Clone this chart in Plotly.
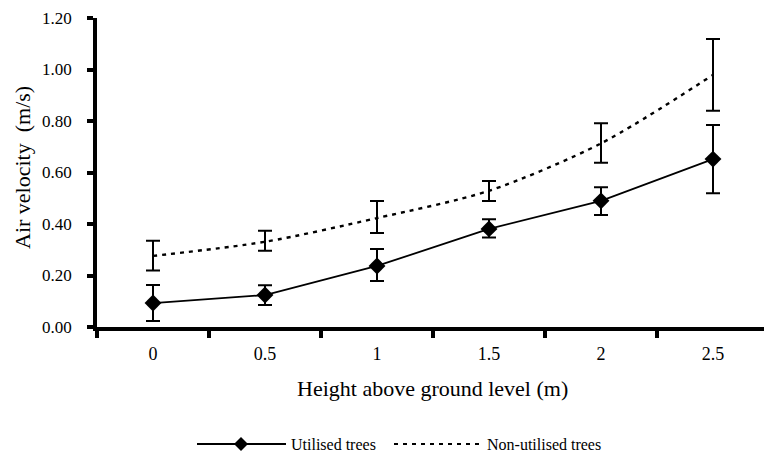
import plotly.graph_objects as go

heights = ["0", "0.5", "1", "1.5", "2", "2.5"]
util_vals = [0.093, 0.124, 0.237, 0.381, 0.490, 0.652]
util_plus = [0.070, 0.038, 0.066, 0.037, 0.053, 0.132]
util_minus = [0.070, 0.039, 0.058, 0.033, 0.055, 0.133]
non_vals = [0.276, 0.331, 0.423, 0.529, 0.713, 0.979]
non_plus = [0.059, 0.043, 0.066, 0.038, 0.078, 0.139]
non_minus = [0.057, 0.035, 0.058, 0.040, 0.075, 0.139]
y_ticks = [0.0, 0.2, 0.4, 0.6, 0.8, 1.0, 1.2]
series_names = ["Utilised trees", "Non-utilised trees"]

W, H = 764, 459
L, R, T, B = 97, 0, 18, 132
pw, ph = W - L - R, H - T - B

def px_x(px):
    return (px - L) / pw

def px_y(py):
    return (H - B - py) / ph

font_family = "Liberation Serif, Times New Roman, serif"

fig = go.Figure()
fig.add_trace(go.Scatter(
    x=heights, y=util_vals, name=series_names[0],
    mode="lines+markers",
    line=dict(color="black", width=1.8),
    marker=dict(symbol="diamond", size=13, color="black"),
    error_y=dict(type="data", symmetric=False, array=util_plus, arrayminus=util_minus,
                 color="black", thickness=2, width=7),
))
fig.add_trace(go.Scatter(
    x=heights, y=non_vals, name=series_names[1],
    mode="lines",
    line=dict(color="black", width=2.4, dash="4px,5px", shape="spline", smoothing=0.8),
    error_y=dict(type="data", symmetric=False, array=non_plus, arrayminus=non_minus,
                 color="black", thickness=2, width=7),
))

# custom legend (samples drawn as shapes to match the long Excel-style samples)
leg_y = 444
shapes = [
    dict(type="line", xref="paper", yref="paper", x0=px_x(197), x1=px_x(286),
         y0=px_y(leg_y), y1=px_y(leg_y), line=dict(color="black", width=1.8)),
    dict(type="path", xref="paper", yref="paper",
         path="M {a},{b} L {c},{d} L {a},{e} L {f},{d} Z".format(
             a=px_x(241), b=px_y(leg_y - 7), c=px_x(248), d=px_y(leg_y),
             e=px_y(leg_y + 7), f=px_x(234)),
         fillcolor="black", line=dict(color="black", width=0)),
    dict(type="line", xref="paper", yref="paper", x0=px_x(394), x1=px_x(482),
         y0=px_y(leg_y), y1=px_y(leg_y), line=dict(color="black", width=2, dash="4px,5px")),
]

fig.update_layout(
    width=W, height=H,
    margin=dict(l=L, r=R, t=T, b=B, autoexpand=False),
    paper_bgcolor="white", plot_bgcolor="white",
    font=dict(family=font_family, color="black", size=16),
    showlegend=False,
    shapes=shapes,
    xaxis=dict(
        type="category", range=[-0.5, -0.5 + pw / 112.0],
        tickson="boundaries", ticks="outside", ticklen=7, tickwidth=3.5, tickcolor="black",
        showline=True, linewidth=3.5, linecolor="black", showgrid=False, zeroline=False,
        tickfont=dict(size=18, family=font_family), ticklabelstandoff=8,
    ),
    yaxis=dict(
        range=[0, 1.2], tickvals=y_ticks, tickformat=".2f",
        ticks="outside", ticklen=6, tickwidth=3.5, tickcolor="black",
        showline=True, linewidth=3.5, linecolor="black", showgrid=False, zeroline=False,
        tickfont=dict(size=17, family=font_family), ticklabelstandoff=12,
    ),
    annotations=[
        dict(text="Height above ground level (m)", x=px_x(432), y=px_y(388),
             xref="paper", yref="paper", showarrow=False, xanchor="center", yanchor="middle",
             font=dict(size=22, family=font_family)),
        dict(text="Air velocity  (m/s)", x=px_x(22), y=px_y(168), textangle=-90,
             xref="paper", yref="paper", showarrow=False, xanchor="center", yanchor="middle",
             font=dict(size=22, family=font_family)),
        dict(text=series_names[0], x=px_x(289), y=px_y(leg_y), xref="paper", yref="paper",
             showarrow=False, xanchor="left", yanchor="middle",
             font=dict(size=16, family=font_family)),
        dict(text=series_names[1], x=px_x(485), y=px_y(leg_y), xref="paper", yref="paper",
             showarrow=False, xanchor="left", yanchor="middle",
             font=dict(size=16, family=font_family)),
    ],
)

fig.write_html("out.html")
